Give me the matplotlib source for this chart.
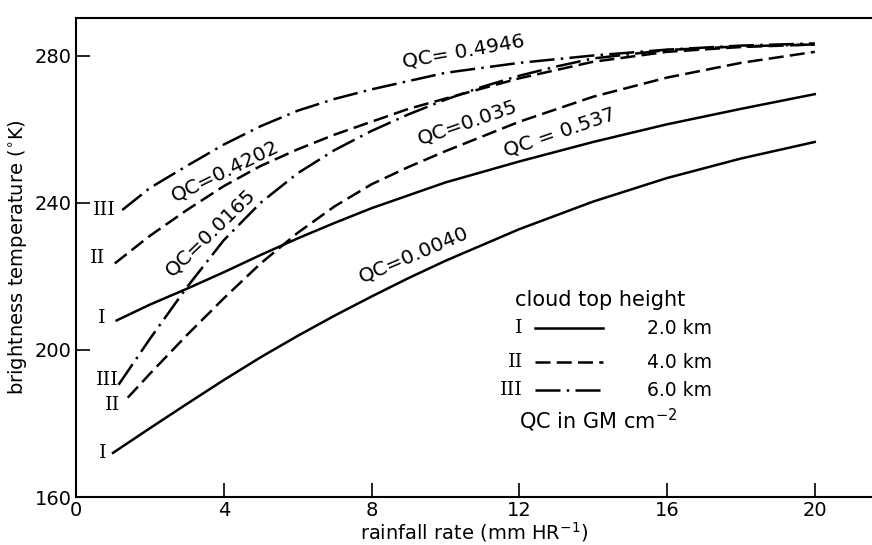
import numpy as np
import matplotlib
matplotlib.use('Agg')
import matplotlib.pyplot as plt

# rainfall rate (mm/hr) vs brightness temperature (K)
x_0040 = [1, 2, 3, 4, 5, 6, 7, 8, 9, 10, 12, 14, 16, 18, 20]
y_0040 = [172, 178.7, 185.3, 191.8, 198, 203.8, 209.3, 214.5, 219.5, 224.2, 232.8, 240.3, 246.7, 252, 256.5]

x_0537 = [1.1, 2, 3, 4, 5, 6, 7, 8, 10, 12, 14, 16, 18, 20]
y_0537 = [208, 212.3, 216.6, 221.1, 225.8, 230.3, 234.5, 238.5, 245.5, 251.2, 256.5, 261.3, 265.5, 269.5]

x_035 = [1.4, 2, 3, 4, 5, 6, 7, 8, 9, 10, 12, 14, 16, 18, 20]
y_035 = [187, 193.5, 204, 214, 223.5, 231.8, 239, 245, 249.7, 254, 262, 268.8, 274, 278, 281]

x_4202 = [1.05, 2, 3, 4, 5, 6, 7, 8, 9, 10, 12, 14, 16, 18, 20]
y_4202 = [223.5, 231, 238, 244.5, 250, 254.5, 258.5, 262, 265.5, 268.3, 273.8, 278.3, 281, 282.3, 283]

x_0165 = [1.15, 2, 3, 4, 5, 6, 7, 8, 9, 10, 11, 12, 13, 14, 16, 18, 20]
y_0165 = [190.5, 203, 217, 229.8, 240, 248, 254.3, 259.5, 264, 268, 271.5, 274.5, 277, 279.2, 281.5, 282.5, 283]

x_4946 = [1.25, 2, 3, 4, 5, 6, 7, 8, 10, 12, 14, 16, 18, 20]
y_4946 = [238, 244, 250, 255.8, 260.8, 265, 268.2, 270.8, 275.3, 278, 280, 281.6, 282.7, 283.3]

xticks = [0, 4, 8, 12, 16, 20]
yticks = [160, 200, 240, 280]

solid = '-'
dashed = (0, (6, 2.5))
dashdot = (0, (10, 2.5, 1, 2.5))
lw = 1.8

fig = plt.figure(figsize=(8.72, 5.45), dpi=100)
ax = fig.add_axes([0.0872, 0.088, 0.9128, 0.879])

ax.plot(x_0040, y_0040, color='k', lw=lw, ls=solid)
ax.plot(x_0537, y_0537, color='k', lw=lw, ls=solid)
ax.plot(x_035, y_035, color='k', lw=lw, ls=dashed)
ax.plot(x_4202, y_4202, color='k', lw=lw, ls=dashed)
ax.plot(x_0165, y_0165, color='k', lw=lw, ls=dashdot)
ax.plot(x_4946, y_4946, color='k', lw=lw, ls=dashdot)

ax.set_xlim(0, 21.55)
ax.set_ylim(160, 290.2)
ax.set_xticks(xticks)
ax.set_yticks(yticks)
ax.tick_params(direction='in', length=10, width=1.2, labelsize=14, pad=3)
ax.spines['right'].set_visible(False)
for s in ['left', 'bottom', 'top']:
    ax.spines[s].set_linewidth(1.5)

ax.set_xlabel('rainfall rate (mm HR$^{-1}$)', fontsize=14, labelpad=0)
ax.set_ylabel('brightness temperature ($^{\\circ}$K)', fontsize=14, labelpad=4)

# curve labels
lab = dict(fontsize=14.5, ha='center', va='center', rotation_mode='anchor')
ax.text(10.5, 281.2, 'QC= 0.4946', rotation=10, **lab)
ax.text(4.05, 248.6, 'QC=0.4202', rotation=26, **lab)
ax.text(3.65, 232.0, 'QC=0.0165', rotation=44, **lab)
ax.text(10.6, 261.8, 'QC=0.035', rotation=19, **lab)
ax.text(13.1, 259.0, 'QC = 0.537', rotation=19, **lab)
ax.text(9.15, 226.0, 'QC=0.0040', rotation=23, **lab)

# roman numerals at curve starts
rom = dict(fontsize=14, family='DejaVu Serif', ha='center', va='center')
ax.text(0.76, 238, 'III', **rom)
ax.text(0.57, 225, 'II', **rom)
ax.text(0.70, 208.6, 'I', **rom)
ax.text(0.84, 191.8, 'III', **rom)
ax.text(1.00, 185, 'II', **rom)
ax.text(0.73, 172, 'I', **rom)

# key
ax.text(11.88, 213.5, 'cloud top height', fontsize=15, ha='left', va='center')
key_rows = [(205.9, 'I', solid, '2.0 km'), (196.7, 'II', dashed, '4.0 km'),
            (189.0, 'III', dashdot, '6.0 km')]
for yk, r, st, t in key_rows:
    ax.text(12.1, yk, r, ha='right', va='center', fontsize=14, family='DejaVu Serif')
    ax.plot([12.42, 14.26], [yk, yk], color='k', lw=lw, ls=st)
    ax.text(15.45, yk, t, ha='left', va='center', fontsize=13.5)
ax.text(12.0, 180.9, 'QC in GM cm$^{-2}$', fontsize=15, ha='left', va='center')

plt.savefig('out.png', dpi=100)
